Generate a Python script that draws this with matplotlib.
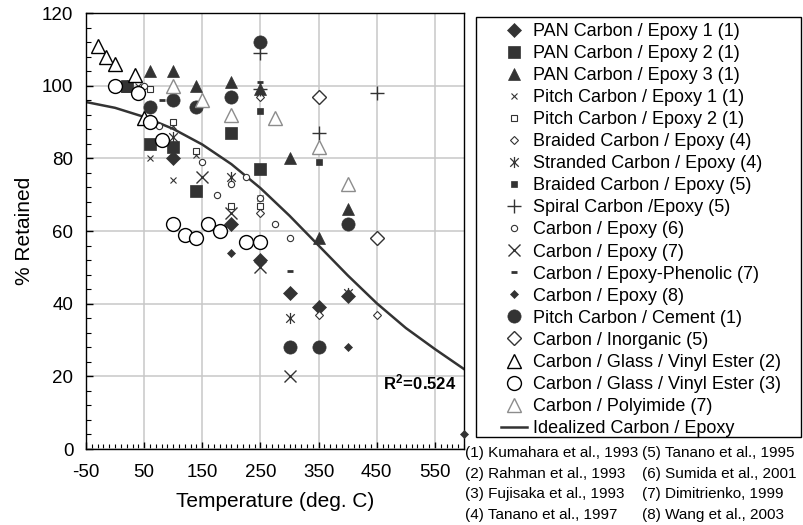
import numpy as np
import matplotlib
matplotlib.use("Agg")
import matplotlib.pyplot as plt
from matplotlib.path import Path
from matplotlib.patches import Rectangle
from matplotlib.ticker import MultipleLocator

plt.rcParams['font.family'] = ['Liberation Sans', 'DejaVu Sans']
plt.rcParams['axes.unicode_minus'] = False
plt.rcParams['mathtext.fontset'] = 'custom'
plt.rcParams['mathtext.bf'] = 'Liberation Sans:bold'
plt.rcParams['mathtext.rm'] = 'Liberation Sans'

# data (temperature in deg C, % retained)
pan1_x = [100, 200, 250, 300, 350, 400]
pan1_y = [80, 62, 52, 43, 39, 42]
pan2_x = [20, 60, 100, 140, 200, 250]
pan2_y = [100, 84, 83, 71, 87, 77]
pan3_x = [20, 60, 100, 140, 200, 250, 300, 350, 400]
pan3_y = [100, 104, 104, 100, 101, 99, 80, 58, 66]
pitch1_x = [40, 60, 100, 100, 140, 250]
pitch1_y = [100, 80, 89, 74, 81, 69]
pitch2_x = [60, 100, 140, 200, 250]
pitch2_y = [99, 90, 82, 67, 67]
braided4_x = [250, 250, 350, 450]
braided4_y = [97, 65, 37, 37]
stranded_x = [100, 200, 300, 400]
stranded_y = [86, 75, 36, 43]
braided5_x = [250, 350]
braided5_y = [93, 79]
spiral_x = [250, 250, 350, 450]
spiral_y = [109, 99, 87, 98]
ce6_x = [50, 75, 150, 175, 200, 225, 250, 275, 300]
ce6_y = [100, 89, 79, 70, 73, 75, 69, 62, 58]
ce7_x = [150, 200, 250, 300]
ce7_y = [75, 65, 50, 20]
phen_x = [80, 250, 300]
phen_y = [96, 101, 49]
ce8_x = [200, 400, 600]
ce8_y = [54, 28, 4]
cement_x = [60, 100, 140, 200, 250, 300, 350, 400]
cement_y = [94, 96, 94, 97, 112, 28, 28, 62]
inorg_x = [350, 450]
inorg_y = [97, 58]
ve2_x = [-30, -15, 0, 35, 50]
ve2_y = [111, 108, 106, 103, 91]
ve3_x = [0, 40, 60, 80, 100, 120, 140, 160, 180, 225, 250]
ve3_y = [100, 98, 90, 85, 62, 59, 58, 62, 60, 57, 57]
poly_x = [100, 150, 200, 275, 350, 400]
poly_y = [100, 96, 92, 91, 83, 73]

ideal_x = [-50, 0, 50, 100, 150, 200, 250, 300, 350, 400, 450, 500, 550, 600]
ideal_y = [95.5, 93.9, 91.4, 88.1, 83.8, 78.4, 71.8, 64.2, 56.0, 47.8, 40.1, 33.3, 27.5, 22.0]

references = [
    "(1) Kumahara et al., 1993", "(2) Rahman et al., 1993",
    "(3) Fujisaka et al., 1993", "(4) Tanano et al., 1997",
    "(5) Tanano et al., 1995", "(6) Sumida et al., 2001",
    "(7) Dimitrienko, 1999", "(8) Wang et al., 2003",
]

W, H = 804, 525
dark = '#333333'
grey = '#8c8c8c'

# asterisk = X plus vertical bar
star = Path([(-1, -1), (1, 1), (-1, 1), (1, -1), (0, -1.3), (0, 1.3)],
            [Path.MOVETO, Path.LINETO] * 3)

fig = plt.figure(figsize=(W / 100, H / 100), dpi=100)
ax = fig.add_axes([86 / W, 1 - 449 / H, (464 - 86) / W, (449 - 13) / H])

def filled(x, y, m, ms, label, c=dark):
    ax.plot(x, y, ls='none', marker=m, ms=ms, mfc=c, mec=c, mew=0.5, label=label,
            zorder=3, clip_on=False)

def hollow(x, y, m, ms, label, c='black', mew=1.0):
    ax.plot(x, y, ls='none', marker=m, ms=ms, mfc='white', mec=c, mew=mew, label=label,
            zorder=3, clip_on=False)

def lines(x, y, m, ms, label, mew=1.0):
    ax.plot(x, y, ls='none', marker=m, ms=ms, mfc='none', mec=dark, mew=mew, label=label,
            zorder=3, clip_on=False)

filled(pan1_x, pan1_y, 'D', 7.5, 'PAN Carbon / Epoxy 1 (1)')
filled(pan2_x, pan2_y, 's', 8, 'PAN Carbon / Epoxy 2 (1)')
filled(pan3_x, pan3_y, '^', 9, 'PAN Carbon / Epoxy 3 (1)')
lines(pitch1_x, pitch1_y, 'x', 4.5, 'Pitch Carbon / Epoxy 1 (1)', 0.8)
hollow(pitch2_x, pitch2_y, 's', 4.5, 'Pitch Carbon / Epoxy 2 (1)', dark, 0.8)
hollow(braided4_x, braided4_y, 'D', 3.8, 'Braided Carbon / Epoxy (4)', dark, 0.8)
lines(stranded_x, stranded_y, star, 8, 'Stranded Carbon / Epoxy (4)', 0.9)
filled(braided5_x, braided5_y, 's', 4.5, 'Braided Carbon / Epoxy (5)')
lines(spiral_x, spiral_y, '+', 10, 'Spiral Carbon /Epoxy (5)', 1.0)
hollow(ce6_x, ce6_y, 'o', 4.5, 'Carbon / Epoxy (6)', dark, 0.8)
lines(ce7_x, ce7_y, 'x', 9, 'Carbon / Epoxy (7)', 1.0)
lines(phen_x, phen_y, '_', 5, 'Carbon / Epoxy-Phenolic (7)', 2.0)
filled(ce8_x, ce8_y, 'D', 4, 'Carbon / Epoxy (8)')
filled(cement_x, cement_y, 'o', 9.5, 'Pitch Carbon / Cement (1)')
hollow(inorg_x, inorg_y, 'D', 7.5, 'Carbon / Inorganic (5)', dark, 1.0)
hollow(ve2_x, ve2_y, '^', 10, 'Carbon / Glass / Vinyl Ester (2)', 'black', 1.0)
hollow(ve3_x, ve3_y, 'o', 10, 'Carbon / Glass / Vinyl Ester (3)', 'black', 1.0)
hollow(poly_x, poly_y, '^', 10, 'Carbon / Polyimide (7)', grey, 1.0)
ax.plot(ideal_x, ideal_y, color=dark, lw=1.8, label='Idealized Carbon / Epoxy', zorder=2)

ax.text(461, 18.4, r'$\mathbf{R^2\!=\!0.524}$', fontsize=12, va='center', ha='left')

ax.set_xlim(-50, 600)
ax.set_ylim(0, 120)
ax.set_xticks(np.arange(-50, 600, 100))
ax.set_yticks(np.arange(0, 121, 20))
ax.xaxis.set_minor_locator(MultipleLocator(10))
ax.yaxis.set_minor_locator(MultipleLocator(4))
ax.tick_params(which='both', direction='in', labelsize=13.5, color='black')
ax.tick_params(which='major', length=5, width=1)
ax.tick_params(which='minor', length=3.5, width=0.8)
ax.tick_params(axis='x', pad=11)
ax.tick_params(axis='y', pad=9)
ax.grid(True, which='major', color='#c8c8c8', lw=1.1, zorder=0)
ax.set_axisbelow(True)
for s in ax.spines.values():
    s.set_color('black')
    s.set_linewidth(1.0)
ax.set_xlabel('Temperature (deg. C)', fontsize=15, labelpad=8)
ax.set_ylabel('% Retained', fontsize=15, labelpad=6)

leg = ax.legend(loc='upper left', bbox_to_anchor=(501 / W, 1 - 23 / H),
                bbox_transform=fig.transFigure, frameon=False, fontsize=13,
                borderpad=0, borderaxespad=0, labelspacing=0.28,
                handlelength=1.45, handletextpad=0.33, numpoints=1)
fig.patches.append(Rectangle((476 / W, 1 - 437 / H), (801 - 476) / W, (437 - 17) / H,
                             transform=fig.transFigure, fill=False,
                             edgecolor='black', lw=1.0))

for i, ref in enumerate(references[:4]):
    fig.text(465 / W, 1 - (453 + i * 20.7) / H, ref, fontsize=11, va='center', ha='left')
for i, ref in enumerate(references[4:]):
    fig.text(642 / W, 1 - (453 + i * 20.7) / H, ref, fontsize=11, va='center', ha='left')

fig.savefig('out.png', dpi=100)
